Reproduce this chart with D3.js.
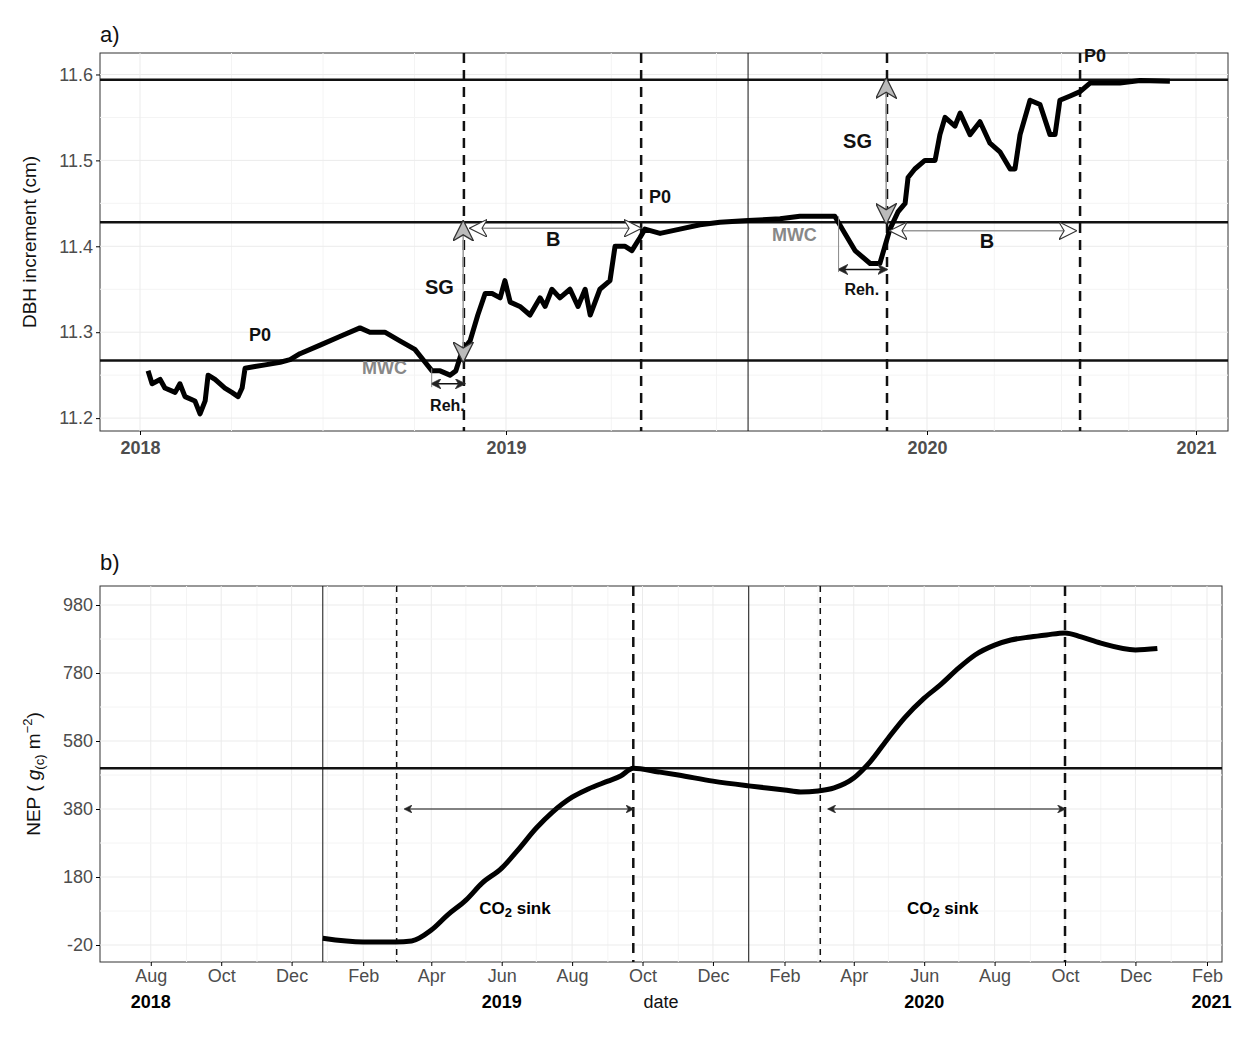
<!DOCTYPE html>
<html><head><meta charset="utf-8">
<script src="https://cdn.jsdelivr.net/npm/d3@7"></script>
<style>
body{margin:0;background:#fff;font-family:"Liberation Sans",Arial,sans-serif;}
.grid line{stroke:#ebebeb;}
.grid .minor{stroke:#f4f4f4;}
.tick text{fill:#4d4d4d;}
</style></head><body>
<svg id="c" width="1258" height="1043"></svg>
<script>
// ---- panel a data: [year fraction, DBH cm]
var dbhYear = [2018.022,2018.033,2018.055,2018.068,2018.096,2018.109,2018.123,2018.150,2018.164,2018.178,2018.186,2018.205,2018.232,2018.251,2018.268,2018.279,2018.287,2018.314,2018.342,2018.383,2018.410,2018.437,2018.492,2018.546,2018.601,2018.628,2018.669,2018.710,2018.751,2018.779,2018.798,2018.820,2018.847,2018.863,2018.874,2018.883,2018.902,2018.923,2018.943,2018.962,2018.984,2018.997,2019.010,2019.033,2019.057,2019.081,2019.093,2019.109,2019.128,2019.152,2019.171,2019.188,2019.200,2019.223,2019.247,2019.259,2019.283,2019.299,2019.318,2019.330,2019.366,2019.413,2019.461,2019.508,2019.575,2019.651,2019.698,2019.781,2019.805,2019.829,2019.865,2019.888,2019.900,2019.912,2019.931,2019.948,2019.955,2019.971,2019.995,2020.030,2020.048,2020.067,2020.104,2020.123,2020.160,2020.197,2020.234,2020.271,2020.309,2020.327,2020.346,2020.383,2020.420,2020.457,2020.476,2020.494,2020.532,2020.569,2020.606,2020.717,2020.792,2020.903];
var dbhVal = [11.255,11.24,11.245,11.235,11.23,11.24,11.225,11.22,11.205,11.22,11.25,11.245,11.235,11.23,11.225,11.235,11.258,11.26,11.262,11.265,11.268,11.275,11.285,11.295,11.305,11.30,11.30,11.29,11.28,11.265,11.255,11.255,11.25,11.255,11.27,11.28,11.29,11.32,11.345,11.345,11.34,11.36,11.335,11.33,11.32,11.34,11.33,11.35,11.34,11.35,11.33,11.35,11.32,11.35,11.36,11.40,11.40,11.395,11.41,11.42,11.415,11.42,11.425,11.428,11.43,11.432,11.435,11.435,11.415,11.395,11.38,11.38,11.40,11.42,11.44,11.45,11.48,11.49,11.50,11.50,11.53,11.55,11.54,11.555,11.53,11.545,11.52,11.51,11.49,11.49,11.53,11.57,11.565,11.53,11.53,11.57,11.575,11.58,11.59,11.59,11.593,11.592];
var yearTicks = [2018,2019,2020,2021];
var dbhTicks = [11.2,11.3,11.4,11.5,11.6];
var dbhHLines = [11.267,11.428,11.594];
var dbhDashed = [2018.885,2019.321,2019.905,2020.569];
var dbhSolid = [2019.575];

// ---- panel b data
var nepDates = ["2018-12-28","2019-02-01","2019-03-01","2019-03-15","2019-04-01","2019-04-15","2019-05-01","2019-05-15","2019-06-01","2019-06-15","2019-07-01","2019-07-15","2019-08-01","2019-08-15","2019-09-01","2019-09-12","2019-09-23","2019-10-15","2019-11-01","2019-12-01","2020-01-01","2020-02-01","2020-02-15","2020-03-01","2020-03-15","2020-04-01","2020-04-15","2020-05-01","2020-05-15","2020-06-01","2020-06-15","2020-07-01","2020-07-15","2020-08-01","2020-08-15","2020-09-01","2020-09-15","2020-10-01","2020-10-15","2020-11-01","2020-12-01","2020-12-20"];
var nepVal = [0,-11,-11,-8,24,68,112,162,206,259,324,371,415,439,462,477,500,489,480,462,448,436,430,433,442,471,518,589,648,706,745,795,833,862,877,886,892,898,886,868,848,852];
var nepTicks = [-20,180,380,580,780,980];
var nepMonthTicks = ["2018-08-01","2018-10-01","2018-12-01","2019-02-01","2019-04-01","2019-06-01","2019-08-01","2019-10-01","2019-12-01","2020-02-01","2020-04-01","2020-06-01","2020-08-01","2020-10-01","2020-12-01","2021-02-01"];
var nepThinDashed = ["2019-03-02","2020-03-03"];
var nepThickDashed = ["2019-09-23","2020-10-01"];
var nepSolid = ["2018-12-28","2020-01-01"];
var sinkPeriods = [["2019-03-02","2019-09-23"],["2020-03-03","2020-10-01"]];

var parse = d3.timeParse("%Y-%m-%d");
var svg = d3.select("#c");

// arrow markers
var defs = svg.append("defs");
function marker(id,color,size){
  defs.append("marker").attr("id",id).attr("viewBox","0 0 10 10").attr("refX",9).attr("refY",5)
    .attr("markerWidth",size).attr("markerHeight",size).attr("orient","auto-start-reverse")
    .append("path").attr("d","M0,0 L10,5 L0,10 L3,5 Z").attr("fill",color).attr("stroke","#333").attr("stroke-width",0.6);
}
marker("ab","#222",7); marker("ag","#bbb",14); marker("aw","#fff",12);

// ================= panel a
var ax = d3.scaleLinear().domain([2017.85,2018,2019,2020,2021,2021.12]).range([100,140,506,927,1196,1228]);
var ay = d3.scaleLinear().domain([11.185,11.625]).range([431,53]);
var gA = svg.append("g");
gA.append("rect").attr("x",100).attr("y",53).attr("width",1128).attr("height",378).attr("fill","#fff").attr("stroke","#333").attr("stroke-width",1);
var gridA = gA.append("g").attr("class","grid");
[2018.5,2019.5,2020.5,2018.25,2018.75,2019.25,2019.75,2020.25,2020.75].forEach(function(v){
  gridA.append("line").attr("class","minor").attr("x1",ax(v)).attr("x2",ax(v)).attr("y1",53).attr("y2",431);
});
[11.25,11.35,11.45,11.55].forEach(function(v){
  gridA.append("line").attr("class","minor").attr("x1",100).attr("x2",1228).attr("y1",ay(v)).attr("y2",ay(v));
});
yearTicks.forEach(function(v){
  gridA.append("line").attr("x1",ax(v)).attr("x2",ax(v)).attr("y1",53).attr("y2",431);
});
dbhTicks.forEach(function(v){
  gridA.append("line").attr("x1",100).attr("x2",1228).attr("y1",ay(v)).attr("y2",ay(v));
});
gA.append("g").attr("transform","translate(100,0)")
  .call(d3.axisLeft(ay).tickValues(dbhTicks).tickFormat(d3.format(".1f")).tickSize(4))
  .call(function(g){g.select(".domain").remove();g.selectAll("text").attr("font-size",18);});
gA.append("g").attr("transform","translate(0,431)")
  .call(d3.axisBottom(ax).tickValues(yearTicks).tickFormat(d3.format("d")).tickSize(4))
  .call(function(g){g.select(".domain").remove();g.selectAll("text").attr("font-size",18).attr("font-weight","bold").attr("fill","#000").attr("dy","0.9em");});
dbhHLines.forEach(function(v){
  gA.append("line").attr("x1",100).attr("x2",1228).attr("y1",ay(v)).attr("y2",ay(v)).attr("stroke","#111").attr("stroke-width",2.5);
});
dbhDashed.forEach(function(v){
  gA.append("line").attr("x1",ax(v)).attr("x2",ax(v)).attr("y1",53).attr("y2",431).attr("stroke","#111").attr("stroke-width",2.5).attr("stroke-dasharray","10,7");
});
dbhSolid.forEach(function(v){
  gA.append("line").attr("x1",ax(v)).attr("x2",ax(v)).attr("y1",53).attr("y2",431).attr("stroke","#111").attr("stroke-width",1);
});
gA.append("path").datum(d3.range(dbhYear.length))
  .attr("d",d3.line().x(function(i){return ax(dbhYear[i]);}).y(function(i){return ay(dbhVal[i]);}))
  .attr("fill","none").attr("stroke","#000").attr("stroke-width",5).attr("stroke-linejoin","round");

// annotations panel a
function arrow(g,x1,y1,x2,y2,m,col,w){
  g.append("line").attr("x1",x1).attr("y1",y1).attr("x2",x2).attr("y2",y2).attr("stroke",col).attr("stroke-width",w)
   .attr("marker-start","url(#"+m+")").attr("marker-end","url(#"+m+")");
}
arrow(gA,ax(2018.883),ay(11.267),ax(2018.883),ay(11.428),"ag","#999",1.5);
arrow(gA,ax(2019.903),ay(11.428),ax(2019.903),ay(11.594),"ag","#999",1.5);
arrow(gA,ax(2018.905),ay(11.421),ax(2019.318),ay(11.421),"aw","#999",1.5);
arrow(gA,ax(2019.915),ay(11.418),ax(2020.55),ay(11.418),"aw","#999",1.5);
arrow(gA,ax(2018.797),ay(11.24),ax(2018.887),ay(11.24),"ab","#111",1.5);
arrow(gA,ax(2019.79),ay(11.373),ax(2019.905),ay(11.373),"ab","#111",1.5);
gA.append("line").attr("x1",ax(2018.797)).attr("x2",ax(2018.797)).attr("y1",ay(11.258)).attr("y2",ay(11.236)).attr("stroke","#888");
gA.append("line").attr("x1",ax(2019.79)).attr("x2",ax(2019.79)).attr("y1",ay(11.435)).attr("y2",ay(11.37)).attr("stroke","#888");
var labsA = [["P0",2018.328,11.29,"#111"],["P0",2019.366,11.45,"#111"],["P0",2020.625,11.615,"#111"],
  ["MWC",2018.668,11.251,"#888"],["MWC",2019.685,11.406,"#888"],["SG",2018.818,11.345,"#111"],["SG",2019.835,11.515,"#111"],
  ["B",2019.112,11.4,"#111"],["B",2020.223,11.398,"#111"],["Reh.",2018.840,11.208,"#111"],["Reh.",2019.845,11.343,"#111"]];
labsA.forEach(function(d){
  gA.append("text").attr("x",ax(d[1])).attr("y",ay(d[2])).attr("text-anchor","middle").attr("font-size",d[0]=="SG"||d[0]=="B"?20:(d[0]=="Reh."?16:18))
    .attr("font-weight","bold").attr("fill",d[3]).text(d[0]);
});
gA.append("text").attr("x",100).attr("y",42).attr("font-size",22).attr("fill","#111").text("a)");
gA.append("text").attr("transform","translate(36,242) rotate(-90)").attr("text-anchor","middle").attr("font-size",19).attr("fill","#111").text("DBH increment (cm)");

// ================= panel b
var bx = d3.scaleTime().domain([parse("2018-06-18"),parse("2021-02-14")]).range([100,1222]);
var by = d3.scaleLinear().domain([-20,980]).range([945,605]);
by.domain([by.invert(962),by.invert(586)]).range([962,586]);
var gB = svg.append("g");
gB.append("rect").attr("x",100).attr("y",586).attr("width",1122).attr("height",376).attr("fill","#fff").attr("stroke","#333");
var gridB = gB.append("g").attr("class","grid");
nepMonthTicks.forEach(function(s){
  var d = parse(s), m = d3.timeMonth.offset(d,1);
  gridB.append("line").attr("x1",bx(d)).attr("x2",bx(d)).attr("y1",586).attr("y2",962);
  if(bx(m)<1222) gridB.append("line").attr("class","minor").attr("x1",bx(m)).attr("x2",bx(m)).attr("y1",586).attr("y2",962);
});
nepTicks.forEach(function(v){
  gridB.append("line").attr("x1",100).attr("x2",1222).attr("y1",by(v)).attr("y2",by(v));
  if(by(v+100)>586) gridB.append("line").attr("class","minor").attr("x1",100).attr("x2",1222).attr("y1",by(v+100)).attr("y2",by(v+100));
});
gB.append("g").attr("transform","translate(100,0)")
  .call(d3.axisLeft(by).tickValues(nepTicks).tickFormat(function(d){return String(d);}).tickSize(4))
  .call(function(g){g.select(".domain").remove();g.selectAll("text").attr("font-size",18);});
gB.append("g").attr("transform","translate(0,962)")
  .call(d3.axisBottom(bx).tickValues(nepMonthTicks.map(parse)).tickFormat(d3.timeFormat("%b")).tickSize(4))
  .call(function(g){g.select(".domain").remove();g.selectAll("text").attr("font-size",18);});
[["2018","2018-08-01"],["2019","2019-06-01"],["2020","2020-06-01"],["2021","2021-02-05"]].forEach(function(d){
  gB.append("text").attr("x",bx(parse(d[1]))).attr("y",1008).attr("text-anchor","middle").attr("font-size",18).attr("font-weight","bold").text(d[0]);
});
gB.append("text").attr("x",661).attr("y",1008).attr("text-anchor","middle").attr("font-size",18).attr("fill","#111").text("date");
gB.append("line").attr("x1",100).attr("x2",1222).attr("y1",by(500)).attr("y2",by(500)).attr("stroke","#111").attr("stroke-width",2.5);
nepSolid.forEach(function(s){
  gB.append("line").attr("x1",bx(parse(s))).attr("x2",bx(parse(s))).attr("y1",586).attr("y2",962).attr("stroke","#111").attr("stroke-width",1);
});
nepThinDashed.forEach(function(s){
  gB.append("line").attr("x1",bx(parse(s))).attr("x2",bx(parse(s))).attr("y1",586).attr("y2",962).attr("stroke","#111").attr("stroke-width",1.5).attr("stroke-dasharray","6,5");
});
nepThickDashed.forEach(function(s){
  gB.append("line").attr("x1",bx(parse(s))).attr("x2",bx(parse(s))).attr("y1",586).attr("y2",962).attr("stroke","#111").attr("stroke-width",2.5).attr("stroke-dasharray","10,7");
});
gB.append("path").datum(d3.range(nepDates.length))
  .attr("d",d3.line().curve(d3.curveMonotoneX).x(function(i){return bx(parse(nepDates[i]));}).y(function(i){return by(nepVal[i]);}))
  .attr("fill","none").attr("stroke","#000").attr("stroke-width",5).attr("stroke-linejoin","round");
sinkPeriods.forEach(function(p){
  var x1 = bx(parse(p[0])), x2 = bx(parse(p[1]));
  arrow(gB,x1+8,by(380),x2,by(380),"ab","#111",1.2);
  var t = gB.append("text").attr("x",(x1+x2)/2).attr("y",by(70)).attr("text-anchor","middle").attr("font-size",17).attr("font-weight","bold");
  t.append("tspan").text("CO");
  t.append("tspan").attr("font-size",13).attr("dy",3).text("2");
  t.append("tspan").attr("dy",-3).text(" sink");
});
gB.append("text").attr("x",100).attr("y",570).attr("font-size",22).attr("fill","#111").text("b)");
var yl = gB.append("text").attr("transform","translate(40,774) rotate(-90)").attr("text-anchor","middle").attr("font-size",19).attr("fill","#111");
yl.append("tspan").text("NEP ( ");
yl.append("tspan").attr("font-style","italic").text("g");
yl.append("tspan").attr("font-size",13).attr("dy",4).text("(c)");
yl.append("tspan").attr("dy",-4).text(" m");
yl.append("tspan").attr("font-size",13).attr("dy",-8).text("−2");
yl.append("tspan").attr("dy",8).text(")");
</script></body></html>
